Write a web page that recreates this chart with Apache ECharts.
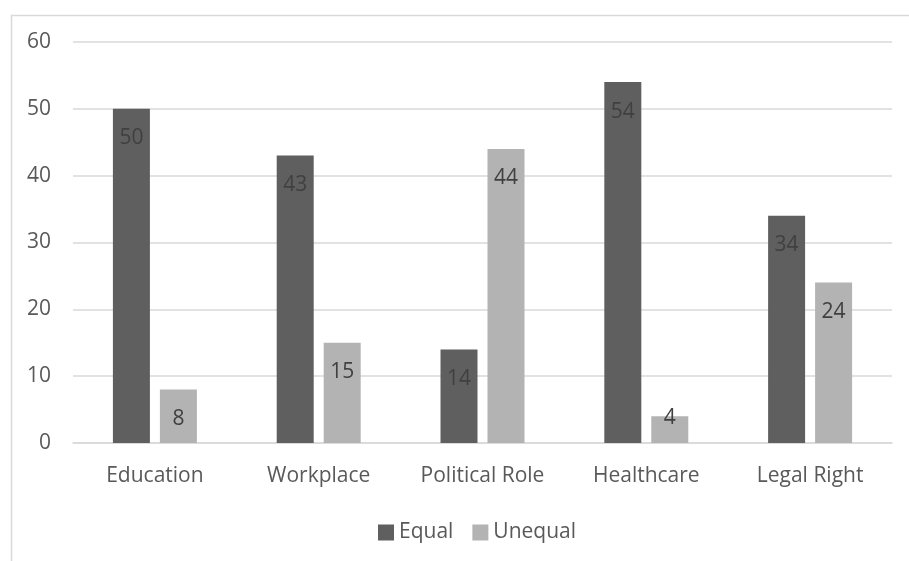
<!DOCTYPE html>
<html>
<head>
<meta charset="utf-8">
<script src="https://cdn.jsdelivr.net/npm/echarts@6/dist/echarts.min.js"></script>
<style>
  html, body { margin: 0; padding: 0; background: #ffffff; }
  #chart { width: 909px; height: 561px; }
</style>
</head>
<body>
<div id="chart"></div>
<script>
// Survey answers per area
const categories = ['Education', 'Workplace', 'Political Role', 'Healthcare', 'Legal Right'];
const equalValues = [50, 43, 14, 54, 34];
const unequalValues = [8, 15, 44, 4, 24];
const seriesNames = ['Equal', 'Unequal'];

const FONT = '"Open Sans", sans-serif';
const TEXT = '#595959';
const SIZE = 21;

const chart = echarts.init(document.getElementById('chart'), null, { renderer: 'canvas' });

const barLabel = {
  show: true,
  position: 'insideTop',
  distance: 19,
  color: '#404040',
  fontFamily: FONT,
  fontSize: SIZE
};

// Short bars have no room below the top edge, so their label sits on the edge
function withLabels(values) {
  return values.map(v => v < 6 ? { value: v, label: { distance: -9 } } : v);
}

chart.setOption({
  animation: false,
  backgroundColor: '#ffffff',
  graphic: [{
    type: 'rect',
    left: 9,
    top: 13,
    shape: { width: 930, height: 600 },
    style: { fill: 'none', stroke: '#d9d9d9', lineWidth: 1.5 },
    silent: true
  }],
  grid: { left: 73, right: 17, top: 42, bottom: 118, containLabel: false },
  legend: {
    data: seriesNames,
    top: 517,
    left: 373,
    icon: 'rect',
    itemWidth: 16,
    itemHeight: 16,
    itemGap: 19,
    textStyle: { color: TEXT, fontFamily: FONT, fontSize: SIZE }
  },
  xAxis: {
    type: 'category',
    data: categories,
    axisLine: { lineStyle: { color: '#d9d9d9', width: 1.5 } },
    axisTick: { show: false },
    axisLabel: { color: TEXT, fontFamily: FONT, fontSize: SIZE, margin: 23 }
  },
  yAxis: {
    type: 'value',
    min: 0,
    max: 60,
    interval: 10,
    axisLine: { show: false },
    axisTick: { show: false },
    axisLabel: { color: TEXT, fontFamily: FONT, fontSize: SIZE, margin: 22 },
    splitLine: { lineStyle: { color: '#d9d9d9', width: 1.5 } }
  },
  series: [
    {
      name: seriesNames[0],
      type: 'bar',
      data: withLabels(equalValues),
      barWidth: 37,
      barGap: '27%',
      itemStyle: { color: '#5f5f5f' },
      label: barLabel
    },
    {
      name: seriesNames[1],
      type: 'bar',
      data: withLabels(unequalValues),
      barWidth: 37,
      itemStyle: { color: '#b3b3b3' },
      label: barLabel
    }
  ]
});
</script>
</body>
</html>
